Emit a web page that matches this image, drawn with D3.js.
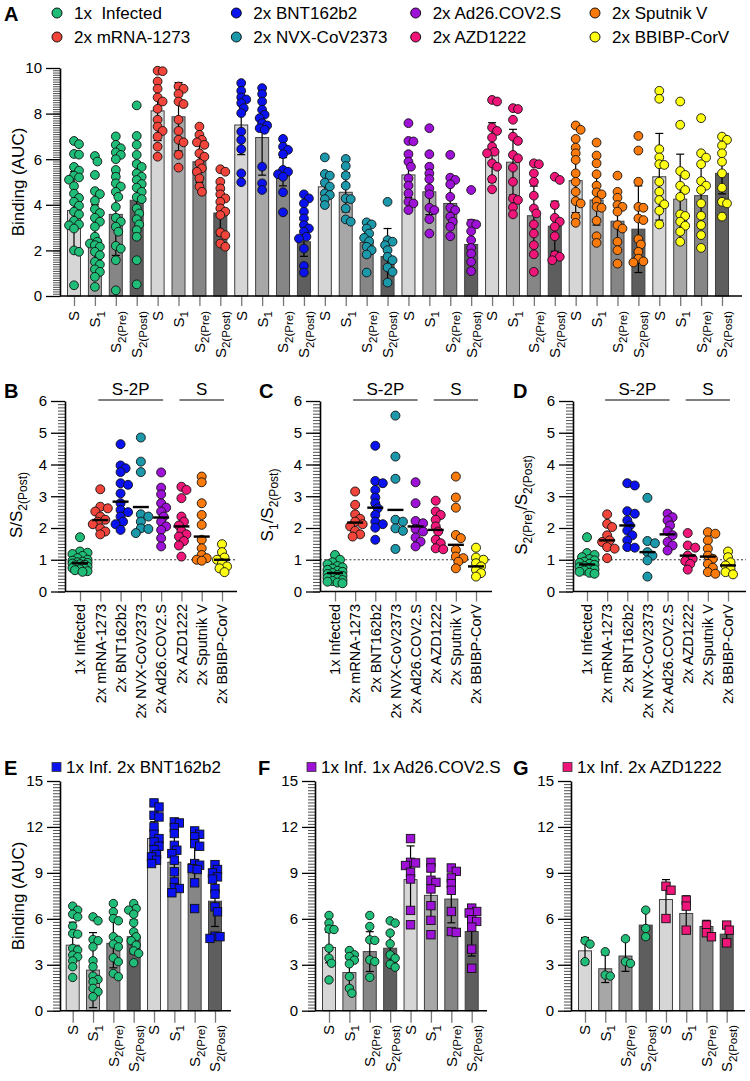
<!DOCTYPE html>
<html><head><meta charset="utf-8">
<script src="https://cdn.jsdelivr.net/npm/d3@7"></script>
<style>body{margin:0;background:#fff}</style>
</head><body>
<script>
// ================= DATA =================
const legendNames = ["1x  Infected","2x mRNA-1273","2x BNT162b2","2x NVX-CoV2373","2x Ad26.COV2.S","2x AZD1222","2x Sputnik V","2x BBIBP-CorV"];
const ratioCategories = ["1x Infected","2x mRNA-1273","2x BNT162b2","2x NVX-CoV2373","2x Ad26.COV2.S","2x AZD1222","2x Sputnik V","2x BBIBP-CorV"];
const groupColors = ["#1fbd78","#f1453b","#0a12f0","#1c98ab","#9e12d8","#f01679","#fb7a0c","#ffff14"];
const antigens = ["S","S1","S2(Pre)","S2(Post)"];
const antigenFills = ["#d6d6d6","#a7a7a7","#868686","#5e5e5e"];
const bracketLabels = ["S-2P","S"];
const bracketSpans = [[1,4],[5,7]];

// Panel A: binding (AUC), each group = [S, S1, S2(Pre), S2(Post)]
const aInfected = [
  [6.8,6.66,6.23,6.2,5.66,5.5,5.28,5.2,5.1,4.82,4.49,4.3,4.13,3.96,3.7,3.58,3.3,3.14,3.1,2.96,2.0,1.94,0.47],
  [6.14,5.9,5.31,4.6,4.47,4.18,3.81,3.64,3.43,3.26,3.04,2.6,2.38,2.3,2.23,2.16,1.94,1.79,1.5,1.38,1.17,1.06,0.84,0.4],
  [7.0,6.63,6.48,6.3,6.19,6.0,5.53,5.23,4.94,4.8,4.57,4.35,3.91,3.43,3.26,3.04,2.82,2.2,2.08,1.57,0.25],
  [8.36,7.02,6.63,6.19,5.79,5.66,5.38,5.23,5.09,4.91,4.75,4.57,4.34,4.25,3.84,3.62,3.37,3.14,2.89,2.6,1.57,0.51]];
const aMRNA1273 = [
  [9.88,9.86,9.41,9.09,8.71,8.53,8.21,7.73,7.43,7.24,6.99,6.55,6.11],
  [9.19,9.09,8.86,8.53,8.42,7.73,7.24,6.85,6.74,6.19,5.63],
  [7.43,7.07,6.85,6.74,6.63,6.26,6.11,5.82,5.6,5.45,5.16,4.8,4.57],
  [5.56,5.45,5.01,4.72,4.46,4.28,4.13,3.84,3.7,3.55,2.79,2.67,2.3,2.16]];
const aBNT162b2 = [
  [9.34,9.0,8.71,8.62,8.46,8.24,8.02,7.21,6.85,6.44,5.38,4.99],
  [9.12,8.86,8.53,8.17,7.95,7.8,7.58,7.48,7.36,7.29,5.67,4.94,4.65],
  [6.89,6.55,6.41,6.22,5.53,5.45,5.34,5.23,4.55,3.67],
  [4.46,4.28,4.06,3.7,3.4,3.11,2.96,2.82,2.6,2.52,2.08,1.32,1.03]];
const aNVX = [
  [6.08,5.35,5.28,4.97,4.8,4.5,4.43,4.25,3.99],
  [6.01,5.7,5.28,4.84,4.28,4.25,3.84,3.36,3.26],
  [3.23,3.14,2.96,2.74,2.55,2.4,2.16,2.01,1.82,1.03],
  [4.13,2.45,2.38,2.23,2.01,1.72,1.57,1.25,1.06,0.59]];
const aAd26 = [
  [7.58,6.8,6.78,6.22,5.89,5.67,5.16,4.84,4.5,4.13,4.06,3.77],
  [7.36,6.22,5.67,5.38,5.13,4.72,4.46,3.87,3.77,3.37,2.74],
  [6.19,5.19,5.09,4.9,4.35,3.87,3.77,3.48,3.26,3.04,2.62],
  [4.65,3.18,3.14,2.84,2.45,2.11,1.86,1.5,1.09]];
const aAZD = [
  [8.6,8.53,7.39,7.24,6.95,6.55,6.33,6.26,5.82,5.67,5.13,4.68],
  [8.24,8.2,7.73,6.99,6.8,6.19,6.04,5.63,5.01,4.28,4.21,3.89,3.58],
  [5.82,5.78,5.38,5.01,4.4,3.84,3.62,3.14,2.74,2.23,1.83,1.06],
  [5.23,5.09,3.99,3.43,3.26,3.04,2.62,1.79,1.72,1.57]];
const aSputnik = [
  [7.48,7.29,6.89,6.51,6.26,5.97,5.38,5.01,4.57,4.16,4.06,3.48,3.21],
  [6.73,6.16,5.82,5.34,4.84,4.55,4.46,4.16,3.91,3.87,3.3,2.62,2.33],
  [5.28,4.57,4.31,3.99,3.91,3.7,3.11,2.96,2.38,2.01,1.42],
  [7.02,6.38,5.01,3.91,3.87,3.4,3.33,2.49,2.26,1.94,1.64,1.52,1.47]];
const aBBIBP = [
  [9.0,8.65,6.44,6.08,5.78,5.75,5.01,4.57,4.21,4.02,3.74,3.14],
  [8.53,7.51,5.48,5.31,4.84,4.65,4.35,3.58,3.51,3.26,3.08,2.82,2.38],
  [7.8,6.26,6.07,5.78,5.04,4.84,4.65,4.06,3.52,3.11,2.67,2.11],
  [6.99,6.85,6.6,6.26,5.89,5.38,4.75,4.13,4.06,3.48]];
const aMeans = [3.75,2.4,3.58,4.2, 8.12,7.86,5.89,3.64, 7.5,6.95,5.45,2.38, 4.79,4.55,2.35,1.73,
                5.31,4.57,4.06,2.26, 6.3,5.87,3.52,3.06, 5.06,4.21,3.28,2.93, 5.23,4.25,4.4,5.38];
const aSD    = [1.7,1.6,1.8,1.7, 1.3,1.5,0.9,1.0, 1.3,1.65,0.62,0.64, 0.55,0.86,0.63,1.23,
                1.0,1.0,0.9,1.08, 1.3,1.44,1.3,1.1, 1.4,1.1,0.98,1.9, 1.9,1.97,1.29,0.9];

// Panels B-D: ratios per group
const bRatio = [
  [1.71,1.26,1.22,1.18,1.12,1.05,1.0,0.97,0.94,0.92,0.9,0.88,0.86,0.84,0.82,0.8,0.78,0.76,0.74,0.72,0.7,0.67,0.64,0.62],
  [3.22,2.67,2.62,2.52,2.36,2.26,2.2,2.12,1.99,1.89,1.8],
  [4.64,3.97,3.88,3.76,3.41,3.36,3.09,2.78,2.57,2.5,2.36,2.2,2.12,1.94],
  [4.85,4.09,3.76,2.43,2.36,2.2,1.99,1.97,1.84],
  [3.75,3.27,3.06,2.78,2.64,2.52,2.36,2.2,2.05,1.94,1.68,1.42],
  [3.3,3.2,2.94,2.36,2.2,2.08,1.91,1.8,1.73,1.59,1.45,1.1],
  [3.62,3.44,2.78,2.41,2.1,1.63,1.36,1.15,1.05,1.0,0.97],
  [1.49,1.24,1.07,1.0,0.89,0.79,0.73,0.61]];
const bMeans = [0.89,2.25,2.83,2.66,2.33,2.05,1.73,1.0];
const cRatio = [
  [1.15,1.0,0.92,0.86,0.8,0.76,0.72,0.68,0.65,0.62,0.58,0.55,0.52,0.49,0.46,0.43,0.4,0.36,0.33,0.31,0.28,0.26],
  [3.15,2.73,2.43,2.29,2.2,2.12,2.05,1.91,1.8,1.73],
  [4.59,3.48,3.41,3.2,2.96,2.78,2.62,2.41,2.2,2.12,2.01,1.63],
  [5.54,4.25,3.55,2.26,2.2,1.99,1.91,1.34],
  [3.44,2.78,2.22,2.15,1.97,1.89,1.7,1.57,1.42],
  [2.86,2.52,2.41,2.26,2.05,1.89,1.63,1.52,1.36,1.33],
  [3.62,2.96,2.64,1.78,1.68,1.31,1.1,1.05,0.94,0.73],
  [1.38,1.07,1.0,0.89,0.79,0.68,0.58,0.47]];
const cMeans = [0.58,2.17,2.64,2.57,2.05,1.94,1.47,0.79];
const dRatio = [
  [1.71,1.21,1.15,1.08,1.02,0.98,0.94,0.9,0.87,0.84,0.8,0.77,0.74,0.7,0.66,0.62,0.59,0.56],
  [2.43,2.13,2.03,1.77,1.61,1.56,1.4,1.35,1.05],
  [3.41,3.34,2.53,2.45,2.24,2.08,1.92,1.77,1.61,1.4,1.38],
  [2.95,1.59,1.52,1.24,1.13,0.98,0.47],
  [2.45,2.34,2.24,2.08,1.9,1.77,1.56,1.45,1.29],
  [1.84,1.45,1.38,1.13,1.03,0.96,0.87,0.69],
  [1.87,1.82,1.61,1.35,1.13,1.03,0.87,0.75,0.61,0.56],
  [1.26,1.08,0.92,0.82,0.71,0.61,0.54]];
const dMeans = [0.85,1.61,2.08,1.24,1.8,1.13,1.1,0.82];

// Panels E-G: first four bars = 1x infected (before), last four = after vaccination
const eLegend = "1x Inf. 2x BNT162b2";
const ePoints = [
  [6.83,6.57,6.3,6.13,5.52,5.04,5.0,4.07,3.96,3.63,3.52,3.26,2.87,2.17],
  [6.13,5.87,4.65,4.57,4.17,3.26,2.87,2.26,2.04,1.89,1.46,1.24,0.91],
  [7.0,6.46,6.02,5.87,4.83,4.6,4.35,4.17,3.46,3.2,2.43,2.22],
  [7.0,6.67,6.57,6.3,5.74,5.15,4.83,4.57,4.28,3.91,3.74,3.13],
  [13.57,13.3,12.76,12.65,12.0,11.52,11.24,11.02,10.74,10.52,10.2,10.04,9.83,9.61],
  [12.33,12.26,11.96,11.57,10.8,10.48,10.26,9.83,9.07,8.41,8.04,7.98,7.7],
  [11.74,11.52,11.35,10.91,10.74,9.61,9.5,9.28,9.22,8.35,6.67],
  [9.54,9.22,9.0,8.74,8.59,7.98,7.61,6.78,6.46,4.87,4.83,4.72]];
const eMeans = [4.28,2.65,4.4,4.83,11.24,9.7,9.61,7.15];
const eSD = [1.5,2.45,1.6,1.1,1.1,1.7,1.4,1.65];
const fLegend = "1x Inf. 1x Ad26.COV2.S";
const fPoints = [
  [6.22,5.72,5.33,5.3,4.08,3.43,3.1,2.01],
  [3.93,3.65,3.54,3.3,3.06,2.23,1.46,1.14],
  [6.22,5.5,4.63,4.59,3.32,3.21,2.18],
  [5.87,5.72,5.07,4.37,3.65,3.43,3.03,2.84],
  [11.24,9.69,9.65,9.48,9.04,8.6,6.55,5.61],
  [9.69,9.32,8.52,8.38,7.95,6.86,5.9,4.96],
  [9.32,9.1,8.67,8.3,7.86,6.48,5.17,5.11],
  [6.7,6.48,6.38,5.94,5.83,5.46,4.02,2.77]];
const fMeans = [4.13,2.49,3.86,4.08,8.56,7.53,7.29,5.17];
const fSD = [1.0,0.9,1.3,1.0,2.2,1.55,1.55,1.6];
const gLegend = "1x Inf. 2x AZD1222";
const gPoints = [
  [4.57,4.35,3.2],
  [3.85,2.33,2.26],
  [4.7,3.2,3.09],
  [6.57,5.37,4.83],
  [8.13,7.87,6.02],
  [7.22,6.83,5.26],
  [5.59,5.09,4.83],
  [5.59,5.26,4.43]];
const gMeans = [3.91,2.74,3.57,5.59,7.26,6.35,5.5,5.0];
const gSD = [0.87,0.9,1.0,0.9,1.3,1.15,0.4,0.6];

// ================= DRAWING =================
const FONT = "Arial, 'Liberation Sans', Helvetica, sans-serif";
const svg = d3.select("body").append("svg").attr("width",750).attr("height",1081)
  .attr("font-family",FONT);
svg.append("rect").attr("width",750).attr("height",1081).attr("fill","#fff");

function rich(t, parts, fs, subFs, baseDy) {
  let cur = 0, first = true;
  const sh = fs*0.3;
  parts.forEach(([s, sub]) => {
    const ts = t.append("tspan").text(s).attr("font-size", sub ? subFs : fs);
    let dy = first ? baseDy : 0;
    if (sub && !cur) dy += sh; else if (!sub && cur) dy -= sh;
    if (dy) ts.attr("dy", dy);
    cur = sub; first = false;
  });
}
const antParts = n => n.length > 1 ? [["S",0],[n.slice(1),1]] : [["S",0]];

function yAxis(x0, y, majors, minorStep, major, minor) {
  const maxV = majors[majors.length-1];
  const minors = d3.range(0, Math.round(maxV/minorStep)+1).map(k => k*minorStep);
  const g = svg.append("g").attr("transform",`translate(${x0},0)`);
  g.append("g").call(d3.axisLeft(y).tickValues(minors).tickSize(minor).tickSizeOuter(0).tickFormat(""))
    .call(s => s.select(".domain").remove())
    .selectAll("line").attr("stroke","#222").attr("stroke-width",0.8);
  const a = g.append("g").call(d3.axisLeft(y).tickValues(majors).tickSize(major).tickSizeOuter(0)
    .tickPadding(4).tickFormat(d3.format("d")));
  a.attr("font-family",FONT).attr("font-size",15);
  a.select(".domain").attr("stroke","#000").attr("stroke-width",1.6);
  a.selectAll(".tick line").attr("stroke","#000").attr("stroke-width",1.3);
  a.selectAll(".tick text").attr("fill","#000");
}
function xAxis(x, y0, xStart, xEnd, tickLen) {
  const g = svg.append("g").attr("transform",`translate(0,${y0})`)
    .call(d3.axisBottom(x).tickSize(tickLen).tickSizeOuter(0).tickFormat(""));
  g.select(".domain").remove();
  g.selectAll(".tick line").attr("stroke","#777").attr("stroke-width",1.3);
  svg.append("line").attr("x1",xStart).attr("x2",xEnd).attr("y1",y0).attr("y2",y0)
    .attr("stroke","#000").attr("stroke-width",1.6);
}
function swarm(pys, r, step, maxOff) {
  const order = pys.map((p,i)=>i).sort((a,b)=>pys[a]-pys[b]);
  const placed = [], offs = new Array(pys.length).fill(0), minD = r*1.25;
  const nk = 2*Math.floor(maxOff/step);
  order.forEach(i => {
    let best = 0, bestScore = -1;
    for (let k = 0; k <= nk; k++) {
      const o = (k%2 ? 1 : -1)*Math.ceil(k/2)*step;
      let md = Infinity;
      placed.forEach(p => { const d = Math.hypot(p.x-o, p.y-pys[i]); if (d < md) md = d; });
      if (md >= minD) { best = o; break; }
      if (md > bestScore) { bestScore = md; best = o; }
    }
    offs[i] = best; placed.push({x:best, y:pys[i]});
  });
  return offs;
}
function letter(t, x, y) {
  svg.append("text").attr("x",x).attr("y",y).attr("font-size",20).attr("font-weight","bold").text(t);
}
function errBar(x, y, m, sd, cap) {
  const g = svg.append("g").attr("stroke","#000").attr("stroke-width",1.2);
  const lo = Math.max(0, m-sd);
  g.append("line").attr("x1",x).attr("x2",x).attr("y1",y(lo)).attr("y2",y(m+sd));
  g.append("line").attr("x1",x-cap/2).attr("x2",x+cap/2).attr("y1",y(m+sd)).attr("y2",y(m+sd));
  if (m-sd > 0) g.append("line").attr("x1",x-cap/2).attr("x2",x+cap/2).attr("y1",y(lo)).attr("y2",y(lo));
}

// ---------- Legend (top) ----------
letter("A", 4, 21);
const legX = d3.scalePoint().domain([0,1,2,3]).range([57,595]);
const legY = d3.scalePoint().domain([0,1]).range([13,37]);
legendNames.forEach((n,i) => {
  const col = Math.floor(i/2), row = i%2;
  svg.append("circle").attr("cx",legX(col)).attr("cy",legY(row)).attr("r",5)
    .attr("fill",groupColors[i]).attr("stroke","#000").attr("stroke-width",0.9);
  svg.append("text").attr("x",legX(col)+17).attr("y",legY(row)).attr("dy","0.36em")
    .attr("font-size",17).style("white-space","pre").text(n);
});

// ---------- Panel A ----------
const aGroups = [aInfected,aMRNA1273,aBNT162b2,aNVX,aAd26,aAZD,aSputnik,aBBIBP];
const yA = d3.scaleLinear().domain([0,10]).range([296,68]);
const xA = d3.scalePoint().domain(d3.range(32)).range([74,722]);
svg.append("g").selectAll("rect").data(d3.range(32)).join("rect")
  .attr("x", i => xA(i)-6.5).attr("width",13)
  .attr("y", i => yA(aMeans[i])).attr("height", i => yA(0)-yA(aMeans[i]))
  .attr("fill", i => antigenFills[i%4]).attr("stroke","#404040").attr("stroke-width",1);
d3.range(32).forEach(i => errBar(xA(i), yA, aMeans[i], aSD[i], 8));
yAxis(60, yA, [0,2,4,6,8,10], 0.1, 14, 7);
xAxis(xA, 296, 60, 742, 10);
d3.range(32).forEach(i => {
  const t = svg.append("text").attr("transform",`translate(${xA(i)},311) rotate(-90)`)
    .attr("text-anchor","end");
  rich(t, antParts(antigens[i%4]), 15, 11.5, 5.4);
});
svg.append("text").attr("transform","translate(24,182) rotate(-90)")
  .attr("text-anchor","middle").attr("font-size",17).text("Binding (AUC)");
aGroups.forEach((grp,gi) => grp.forEach((vals,ai) => {
  const i = gi*4+ai;
  const pys = vals.map(v => yA(v));
  const offs = swarm(pys, 4.4, 2.5, 7);
  svg.append("g").selectAll("circle").data(vals).join("circle")
    .attr("cx",(v,k) => xA(i)+offs[k]).attr("cy", v => yA(v)).attr("r",4.4)
    .attr("fill",groupColors[gi]).attr("stroke","#111").attr("stroke-width",0.9);
}));

// ---------- Panels B-D ----------
const yR = d3.scaleLinear().domain([0,6]).range([591.5,401]);
function ratioPanel(x0, xEnd, xFirst, xLast, data, means, titleParts, titleX, L, LX) {
  letter(L, LX, 398);
  const x = d3.scalePoint().domain(ratioCategories).range([xFirst,xLast]);
  svg.append("line").attr("x1",x0).attr("x2",xEnd).attr("y1",yR(1)).attr("y2",yR(1))
    .attr("stroke","#333").attr("stroke-width",1).attr("stroke-dasharray","2,2.2");
  yAxis(x0, yR, [0,1,2,3,4,5,6], 0.1, 14, 7);
  xAxis(x, yR(0), x0, xEnd, 10);
  ratioCategories.forEach(c => {
    svg.append("text").attr("transform",`translate(${x(c)},604) rotate(-90)`)
      .attr("text-anchor","end").attr("dy","0.36em").attr("font-size",14.5).text(c);
  });
  bracketLabels.forEach((lab,bi) => {
    const a = x(ratioCategories[bracketSpans[bi][0]])-2, b = x(ratioCategories[bracketSpans[bi][1]])+2;
    svg.append("line").attr("x1",a).attr("x2",b).attr("y1",400).attr("y2",400).attr("stroke","#000").attr("stroke-width",1.2);
    svg.append("text").attr("x",(a+b)/2).attr("y",395).attr("text-anchor","middle").attr("font-size",17).text(lab);
  });
  const t = svg.append("text").attr("transform",`translate(${titleX},505) rotate(-90)`).attr("text-anchor","middle");
  rich(t, titleParts, 17, 12, 0);
  data.forEach((vals,gi) => {
    const cx = x(ratioCategories[gi]);
    const pys = vals.map(v => yR(v));
    const offs = swarm(pys, 4.5, 2.5, 8);
    svg.append("g").selectAll("circle").data(vals).join("circle")
      .attr("cx",(v,k) => cx+offs[k]).attr("cy", v => yR(v)).attr("r",4.5)
      .attr("fill",groupColors[gi]).attr("stroke","#111").attr("stroke-width",0.9);
    svg.append("line").attr("x1",cx-8).attr("x2",cx+8).attr("y1",yR(means[gi])).attr("y2",yR(means[gi]))
      .attr("stroke","#000").attr("stroke-width",2.4);
  });
}
ratioPanel(65, 237, 80, 222, bRatio, bMeans, [["S/S",0],["2(Post)",1]], 22, "B", 4);
ratioPanel(320, 492, 335, 476, cRatio, cMeans, [["S",0],["1",1],["/S",0],["2(Post)",1]], 273, "C", 259);
ratioPanel(573, 746, 587, 728, dRatio, dMeans, [["S",0],["2(Pre)",1],["/S",0],["2(Post)",1]], 527, "D", 513);

// ---------- Panels E-G ----------
const yE = d3.scaleLinear().domain([0,15]).range([1010.7,781]);
function comboPanel(x0, xEnd, xFirst, xLast, pts, means, sds, vColor, legText, L, LX, withTitle) {
  letter(L, LX, 775);
  const x = d3.scalePoint().domain(d3.range(8)).range([xFirst,xLast]);
  svg.append("rect").attr("x",x0-8).attr("y",762.5).attr("width",9).attr("height",9)
    .attr("fill",vColor).attr("stroke","#333").attr("stroke-width",0.8);
  svg.append("text").attr("x",x0+6).attr("y",767).attr("dy","0.36em").attr("font-size",17).text(legText);
  svg.append("g").selectAll("rect").data(d3.range(8)).join("rect")
    .attr("x", i => x(i)-6.5).attr("width",13)
    .attr("y", i => yE(means[i])).attr("height", i => yE(0)-yE(means[i]))
    .attr("fill", i => antigenFills[i%4]).attr("stroke","#404040").attr("stroke-width",1);
  d3.range(8).forEach(i => errBar(x(i), yE, means[i], sds[i], 8));
  yAxis(x0, yE, [0,3,6,9,12,15], 0.2, 13, 7);
  xAxis(x, yE(0), x0, xEnd, 12);
  d3.range(8).forEach(i => {
    const t = svg.append("text").attr("transform",`translate(${x(i)},1025) rotate(-90)`).attr("text-anchor","end");
    rich(t, antParts(antigens[i%4]), 15, 11.5, 5.4);
  });
  if (withTitle) svg.append("text").attr("transform","translate(24,896) rotate(-90)")
    .attr("text-anchor","middle").attr("font-size",17).text("Binding (AUC)");
  pts.forEach((vals,i) => {
    const pys = vals.map(v => yE(v));
    const offs = swarm(pys, 4.2, 2.5, 6.5);
    const cx = x(i);
    if (i < 4) {
      svg.append("g").selectAll("circle").data(vals).join("circle")
        .attr("cx",(v,k) => cx+offs[k]).attr("cy", v => yE(v)).attr("r",4.2)
        .attr("fill",groupColors[0]).attr("stroke","#111").attr("stroke-width",0.9);
    } else {
      svg.append("g").selectAll("rect").data(vals).join("rect")
        .attr("x",(v,k) => cx+offs[k]-4.2).attr("y", v => yE(v)-4.2).attr("width",8.4).attr("height",8.4)
        .attr("fill",vColor).attr("stroke","#111").attr("stroke-width",0.9);
    }
  });
}
comboPanel(60, 231, 72.7, 215, ePoints, eMeans, eSD, groupColors[2], eLegend, "E", 4, true);
comboPanel(315, 487, 329, 471.7, fPoints, fMeans, fSD, groupColors[4], fLegend, "F", 258, false);
comboPanel(571, 745, 585, 726.7, gPoints, gMeans, gSD, groupColors[5], gLegend, "G", 513, false);
</script>
</body></html>
